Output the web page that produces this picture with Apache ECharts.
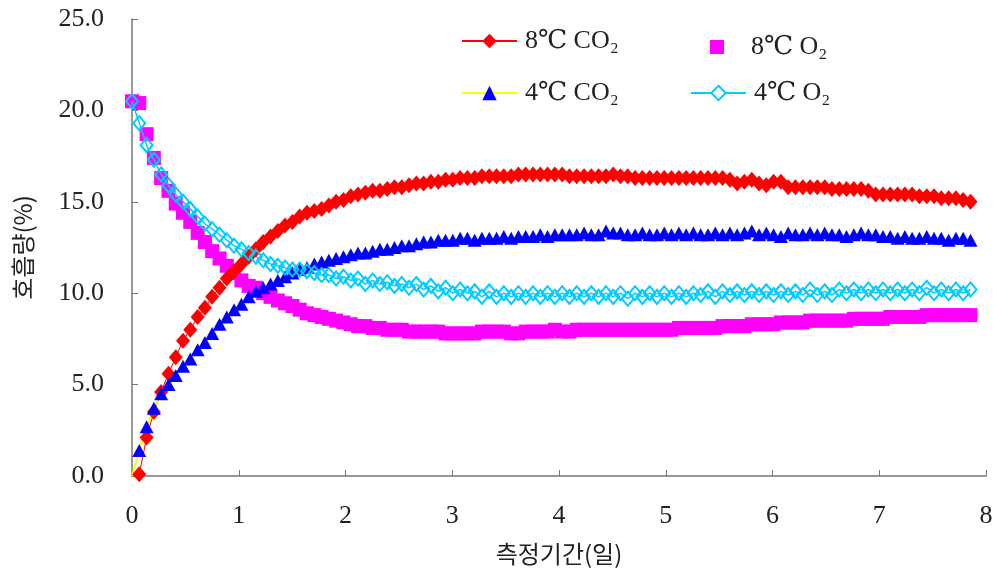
<!DOCTYPE html>
<html>
<head>
<meta charset="utf-8">
<script src="https://cdn.jsdelivr.net/npm/echarts@6/dist/echarts.min.js"></script>
<style>
html,body{margin:0;padding:0;background:#fff;}
#c{width:993px;height:574px;}
</style>
</head>
<body>
<div id="c"></div>
<script>
// measurement times (days)
const days = [
0, 0.068, 0.137, 0.205, 0.273, 0.342, 0.410, 0.478, 0.546, 0.615,
0.683, 0.751, 0.820, 0.888, 0.956, 1.025, 1.093, 1.161, 1.229, 1.298,
1.366, 1.434, 1.503, 1.571, 1.639, 1.708, 1.776, 1.844, 1.912, 1.981,
2.049, 2.117, 2.186, 2.254, 2.322, 2.391, 2.459, 2.527, 2.595, 2.664,
2.732, 2.800, 2.869, 2.937, 3.005, 3.074, 3.142, 3.210, 3.278, 3.347,
3.415, 3.483, 3.552, 3.620, 3.688, 3.757, 3.825, 3.893, 3.961, 4.030,
4.098, 4.166, 4.235, 4.303, 4.371, 4.440, 4.508, 4.576, 4.644, 4.713,
4.781, 4.849, 4.918, 4.986, 5.054, 5.123, 5.191, 5.259, 5.327, 5.396,
5.464, 5.532, 5.601, 5.669, 5.737, 5.806, 5.874, 5.942, 6.010, 6.079,
6.147, 6.215, 6.284, 6.352, 6.420, 6.489, 6.557, 6.625, 6.693, 6.762,
6.830, 6.898, 6.967, 7.035, 7.103, 7.172, 7.240, 7.308, 7.376, 7.445,
7.513, 7.581, 7.650, 7.718, 7.786, 7.855
];
// 8℃ CO2
const co2_8 = [
0, 0.1, 2.1, 3.5, 4.6, 5.6, 6.5, 7.4, 8.0, 8.7,
9.2, 9.8, 10.3, 10.8, 11.2, 11.6, 12.0, 12.4, 12.8, 13.1,
13.4, 13.7, 13.9, 14.2, 14.4, 14.5, 14.6, 14.8, 15.0, 15.1,
15.3, 15.4, 15.5, 15.6, 15.6, 15.7, 15.8, 15.8, 15.9, 16.0,
16.0, 16.1, 16.1, 16.2, 16.2, 16.3, 16.3, 16.3, 16.4, 16.4,
16.4, 16.4, 16.4, 16.5, 16.5, 16.5, 16.5, 16.5, 16.5, 16.5,
16.4, 16.4, 16.4, 16.4, 16.4, 16.4, 16.5, 16.4, 16.4, 16.3,
16.3, 16.3, 16.3, 16.3, 16.3, 16.3, 16.3, 16.3, 16.3, 16.3,
16.3, 16.3, 16.2, 16.0, 16.1, 16.2, 16.0, 15.9, 16.1, 16.1,
15.8, 15.8, 15.8, 15.8, 15.8, 15.8, 15.7, 15.7, 15.7, 15.7,
15.7, 15.6, 15.4, 15.4, 15.4, 15.4, 15.4, 15.4, 15.3, 15.3,
15.3, 15.2, 15.2, 15.2, 15.1, 15.0
];
// 8℃ O2
const o2_8 = [
20.5, 20.4, 18.7, 17.4, 16.3, 15.6, 14.9, 14.4, 13.9, 13.3,
12.8, 12.3, 11.9, 11.5, 11.1, 10.7, 10.4, 10.3, 10.0, 9.8,
9.6, 9.45, 9.3, 9.1, 8.9, 8.8, 8.7, 8.6, 8.5, 8.4,
8.3, 8.2, 8.2, 8.1, 8.1, 8.0, 8.0, 8.0, 7.9, 7.9,
7.9, 7.9, 7.9, 7.8, 7.8, 7.8, 7.8, 7.8, 7.9, 7.9,
7.9, 7.9, 7.8, 7.8, 7.9, 7.9, 7.9, 7.9, 8.0, 7.9,
7.9, 8.0, 8.0, 8.0, 8.0, 8.0, 8.0, 8.0, 8.0, 8.0,
8.0, 8.0, 8.0, 8.0, 8.0, 8.1, 8.1, 8.1, 8.1, 8.1,
8.1, 8.2, 8.2, 8.2, 8.2, 8.3, 8.3, 8.3, 8.3, 8.4,
8.4, 8.4, 8.4, 8.5, 8.5, 8.5, 8.5, 8.5, 8.5, 8.6,
8.6, 8.6, 8.6, 8.6, 8.7, 8.7, 8.7, 8.7, 8.7, 8.8,
8.8, 8.8, 8.8, 8.8, 8.8, 8.8
];
// 4℃ CO2
const co2_4 = [
0, 1.4, 2.7, 3.7, 4.5, 5.0, 5.5, 6.0, 6.4, 6.9,
7.3, 7.8, 8.3, 8.7, 9.1, 9.4, 9.8, 10.1, 10.3, 10.5,
10.7, 10.9, 11.1, 11.3, 11.4, 11.6, 11.7, 11.8, 11.9, 12.0,
12.1, 12.2, 12.2, 12.3, 12.4, 12.4, 12.5, 12.6, 12.6, 12.7,
12.8, 12.8, 12.9, 12.9, 12.9, 13.0, 13.0, 12.9, 13.0, 13.0,
13.0, 13.1, 13.0, 13.1, 13.1, 13.1, 13.2, 13.1, 13.2, 13.2,
13.2, 13.2, 13.3, 13.2, 13.2, 13.4, 13.3, 13.3, 13.2, 13.2,
13.3, 13.2, 13.2, 13.3, 13.2, 13.3, 13.2, 13.3, 13.2, 13.2,
13.3, 13.2, 13.3, 13.2, 13.3, 13.4, 13.2, 13.3, 13.2, 13.1,
13.3, 13.2, 13.2, 13.3, 13.2, 13.3, 13.2, 13.2, 13.1, 13.2,
13.3, 13.2, 13.2, 13.1, 13.1, 13.0, 13.1, 13.0, 13.0, 13.1,
13.0, 13.0, 12.9, 13.0, 13.0, 12.9
];
// 4℃ O2
const o2_4 = [
20.5, 19.3, 18.1, 17.3, 16.5, 15.9, 15.4, 15.0, 14.6, 14.2,
13.8, 13.5, 13.2, 12.9, 12.6, 12.4, 12.2, 12.0, 11.8, 11.6,
11.5, 11.4, 11.3, 11.3, 11.2, 11.1, 11.0, 11.0, 10.8, 10.9,
10.7, 10.8, 10.5, 10.7, 10.5, 10.6, 10.4, 10.5, 10.3, 10.5,
10.2, 10.4, 10.1, 10.3, 10.0, 10.2, 10.0, 10.1, 9.8, 10.1,
9.8, 10.0, 9.8, 10.0, 9.8, 10.0, 9.8, 10.0, 9.8, 10.0,
9.8, 10.0, 9.8, 10.0, 9.8, 10.0, 9.8, 10.0, 9.7, 10.0,
9.8, 10.0, 9.8, 10.0, 9.8, 10.0, 9.8, 10.0, 9.9, 10.1,
9.8, 10.1, 9.9, 10.1, 9.9, 10.1, 9.9, 10.1, 9.9, 10.1,
9.9, 10.1, 9.9, 10.2, 9.9, 10.1, 9.9, 10.2, 10.0, 10.2,
10.0, 10.2, 10.0, 10.2, 10.0, 10.2, 10.0, 10.2, 10.0, 10.3,
10.0, 10.2, 10.0, 10.2, 10.0, 10.2
];
const names = ['8℃ CO₂', '8℃ O₂', '4℃ CO₂', '4℃ O₂'];

// CO2 series start at the origin without a visible marker
const pair = (arr, hideFirst) => arr.map((v, i) =>
  (hideFirst && i === 0) ? {value: [days[i], v], symbolSize: 0} : [days[i], v]);
const serifFont = "'Liberation Serif', 'DejaVu Serif', serif";
const krFont = "'Noto Sans CJK KR', sans-serif";

const chart = echarts.init(document.getElementById('c'), null, {renderer: 'canvas'});
const legendText = {fontFamily: serifFont, fontSize: 26, color: '#222', padding: [0, 0, 0, 3]};
chart.setOption({
  animation: false,
  backgroundColor: '#fff',
  grid: {left: 132, top: 19, right: 7, bottom: 98, containLabel: false, outerBoundsMode: 'none'},
  legend: [
    {data: [names[0]], left: 461, top: 28, padding: 0, itemWidth: 55, itemHeight: 18, textStyle: legendText},
    {data: [{name: names[1]}], left: 710, top: 34, padding: 0, itemWidth: 14, itemHeight: 14,
     textStyle: Object.assign({}, legendText, {padding: [0, 0, 0, 22]})},
    {data: [names[2]], left: 461, top: 80, padding: 0, itemWidth: 55, itemHeight: 18, textStyle: legendText},
    {data: [{name: names[3], itemStyle: {color: '#fff'}}], left: 690, top: 80, padding: 0, itemWidth: 55, itemHeight: 18, textStyle: legendText}
  ],
  xAxis: {
    type: 'value', min: 0, max: 8, interval: 1,
    name: '측정기간(일)', nameLocation: 'middle', nameGap: 66,
    nameTextStyle: {fontFamily: krFont, fontSize: 24, color: '#222'},
    axisLine: {show: true, lineStyle: {color: '#777', width: 1.5}},
    axisTick: {show: true, inside: true, length: 6, lineStyle: {color: '#777'}},
    axisLabel: {fontFamily: serifFont, fontSize: 26, color: '#222', margin: 27},
    splitLine: {show: false}
  },
  yAxis: {
    type: 'value', min: 0, max: 25, interval: 5,
    name: '호흡량(%)', nameLocation: 'middle', nameGap: 97, nameRotate: 90,
    nameTextStyle: {fontFamily: krFont, fontSize: 24, color: '#222'},
    axisLine: {show: true, lineStyle: {color: '#777', width: 1.5}},
    axisTick: {show: true, inside: true, length: 6, lineStyle: {color: '#777'}},
    axisLabel: {fontFamily: serifFont, fontSize: 26, color: '#222', margin: 28,
      formatter: v => v.toFixed(1)},
    splitLine: {show: false}
  },
  series: [
    {
      name: names[1], type: 'scatter', data: pair(o2_8, false),
      symbol: 'rect', symbolSize: 14,
      itemStyle: {color: '#FF00FF', opacity: 1}
    },
    {
      name: names[0], type: 'line', data: pair(co2_8, true),
      symbol: 'diamond', symbolSize: [14, 16], showAllSymbol: true,
      lineStyle: {color: '#FF0000', width: 1},
      itemStyle: {color: '#FF0000'}
    },
    {
      name: names[2], type: 'line', data: pair(co2_4, true),
      symbol: 'triangle', symbolSize: [14, 13], showAllSymbol: true,
      lineStyle: {color: '#FFFF00', width: 2},
      itemStyle: {color: '#0000FF'}
    },
    {
      name: names[3], type: 'line', data: pair(o2_4, false),
      symbol: 'diamond', symbolSize: [12, 14], showAllSymbol: true,
      lineStyle: {color: '#00CCFF', width: 1.5},
      itemStyle: {color: 'rgba(255,255,255,0)', borderColor: '#00CCFF', borderWidth: 2}
    }
  ]
});
</script>
</body>
</html>
